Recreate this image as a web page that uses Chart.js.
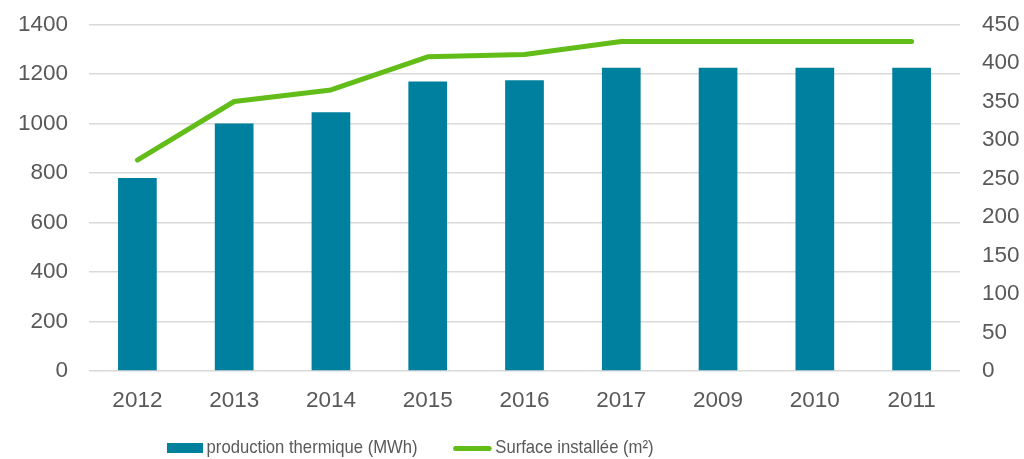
<!DOCTYPE html>
<html>
<head>
<meta charset="utf-8">
<script src="https://cdn.jsdelivr.net/npm/chart.js@4.4.0/dist/chart.umd.min.js"></script>
<style>
  body { margin: 0; background: #fff; overflow: hidden; }
  #wrap { position: relative; width: 1024px; height: 459px; overflow: hidden; }
  #myChart { position: absolute; top: -11px; left: 0; }
  #legend { position: absolute; top: 434px; left: 0; width: 1024px; height: 25px;
    font-family: "Liberation Sans", Arial, sans-serif; font-size: 18.5px; color: #595959; }
  .item { position: absolute; top: 0; white-space: nowrap; line-height: 25px;
    transform: scaleX(0.9); transform-origin: left center; }
  .sw { display: inline-block; vertical-align: middle; margin-right: 4px; }
</style>
</head>
<body>
<div id="wrap">
  <canvas id="myChart" width="1024" height="470"></canvas>
  <div id="legend">
    <div class="item" style="left:167px"><span class="sw" style="width:40px;height:10px;background:#00809f"></span>production thermique (MWh)</div>
    <div class="item" style="left:453px"><span class="sw" style="width:43px;height:5px;border-radius:3px;background:#62bd19"></span>Surface installée (m²)</div>
  </div>
</div>
<script>
const years = ['2012', '2013', '2014', '2015', '2016', '2017', '2009', '2010', '2011'];
const production = [780, 1000, 1045, 1170, 1175, 1225, 1225, 1225, 1225];
const surface = [274, 350, 365, 408, 411, 428, 428, 428, 428];

const textColor = '#595959';
const tickFont = { family: '"Liberation Sans", Arial, sans-serif', size: 22.5 };

const ctx = document.getElementById('myChart').getContext('2d');
const myChart = new Chart(ctx, {
    data: {
        labels: years,
        datasets: [{
            type: 'line',
            label: 'Surface installée (m²)',
            data: surface,
            yAxisID: 'y2',
            borderColor: '#62bd19',
            borderWidth: 5,
            borderCapStyle: 'round',
            borderJoinStyle: 'round',
            pointRadius: 0,
            tension: 0
        }, {
            type: 'bar',
            label: 'production thermique (MWh)',
            data: production,
            yAxisID: 'y',
            backgroundColor: '#00809f',
            barPercentage: 0.4,
            categoryPercentage: 1
        }]
    },
    options: {
        responsive: false,
        animation: false,
        layout: { padding: { left: 17, right: 0, top: 0, bottom: 37 } },
        plugins: { legend: { display: false }, tooltip: { enabled: false } },
        scales: {
            x: {
                grid: { display: false },
                border: { display: false },
                ticks: { color: textColor, font: tickFont, padding: 8 }
            },
            y: {
                position: 'left',
                min: 0, max: 1400,
                ticks: { stepSize: 200, color: textColor, font: tickFont, padding: 21,
                    callback: v => String(v) },
                grid: { color: '#d9d9d9', lineWidth: 1.5, drawTicks: false },
                border: { display: false },
                afterFit: scale => { scale.width = 72; }
            },
            y2: {
                position: 'right',
                min: 0, max: 450,
                ticks: { stepSize: 50, color: textColor, font: tickFont, padding: 22,
                    callback: v => String(v) },
                grid: { display: false, drawTicks: false },
                border: { display: false },
                afterFit: scale => { scale.width = 64; }
            }
        }
    }
});
</script>
</body>
</html>
